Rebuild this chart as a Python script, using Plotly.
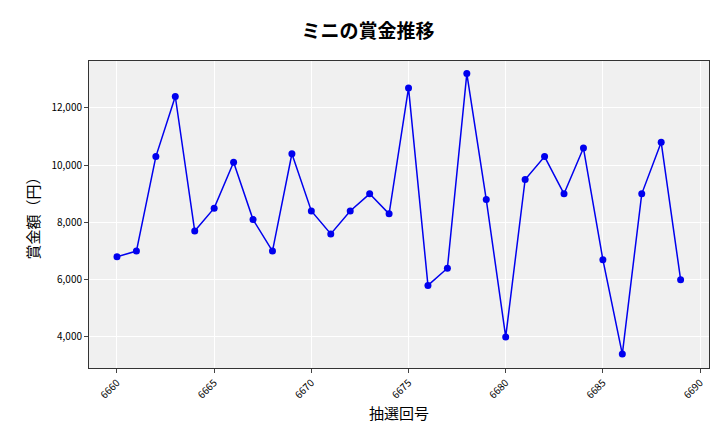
import plotly.graph_objects as go

draws = list(range(6660, 6690))
prizes = [6800, 7000, 10300, 12400, 7700, 8500, 10100, 8100, 7000, 10400,
          8400, 7600, 8400, 9000, 8300, 12700, 5800, 6400, 13200, 8800,
          4000, 9500, 10300, 9000, 10600, 6700, 3400, 9000, 10800, 6000]

font = "Noto Sans CJK JP"

fig = go.Figure(go.Scatter(
    x=draws, y=prizes, mode="lines+markers",
    line=dict(color="#0000ee", width=1.5),
    marker=dict(color="#0000ee", size=7),
))

fig.update_layout(
    width=720, height=432,
    font=dict(family=font, color="black"),
    title=dict(text="<b>ミニの賞金推移</b>", x=0.5, y=0.945, xanchor="center",
               yanchor="middle", font=dict(size=19)),
    plot_bgcolor="#f0f0f0", paper_bgcolor="white",
    margin=dict(l=81, r=19, t=53, b=72, autoexpand=False),
    showlegend=False,
)
fig.update_xaxes(
    title=dict(text="抽選回号", font=dict(size=15), standoff=8),
    range=[6658.56, 6690.46], dtick=5, tick0=6660, tickangle=-45,
    tickfont=dict(size=10), gridcolor="white", showline=True,
    linecolor="#333", mirror=True, ticks="outside", ticklen=4, zeroline=False,
    automargin=False,
)
fig.update_yaxes(
    title=dict(text="賞金額（円）", font=dict(size=15), standoff=8),
    range=[2915, 13640], dtick=2000, tickformat=",",
    tickfont=dict(size=10), gridcolor="white", showline=True,
    linecolor="#333", mirror=True, ticks="outside", ticklen=4, zeroline=False,
    automargin=False,
)

fig.write_html("out.html")
